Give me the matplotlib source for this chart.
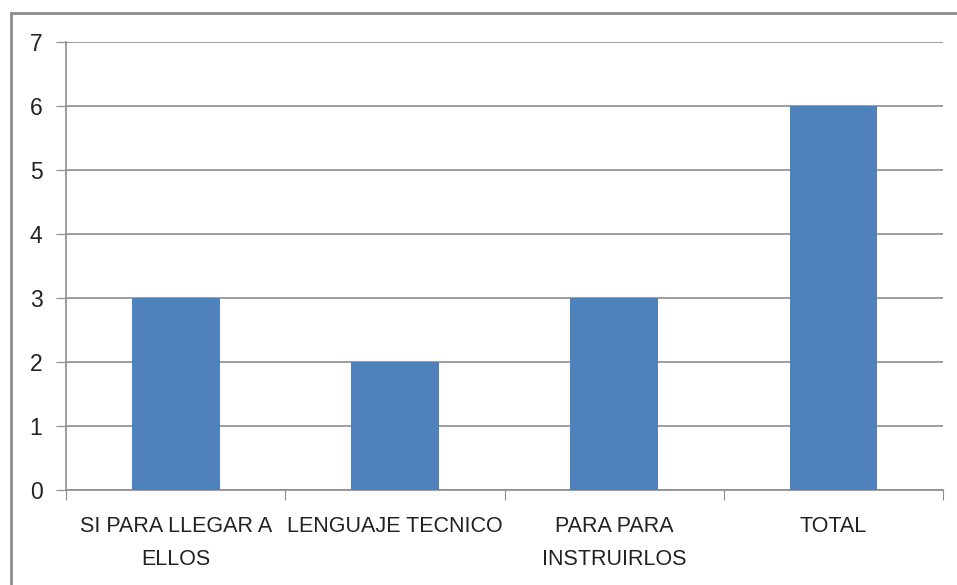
import matplotlib
matplotlib.use("Agg")
from matplotlib import pyplot as plt
from matplotlib.patches import Rectangle

categories = ["SI PARA LLEGAR A\nELLOS", "LENGUAJE TECNICO", "PARA PARA\nINSTRUIRLOS", "TOTAL"]
values = [3, 2, 3, 6]

plt.rcParams['font.family'] = ['Liberation Sans', 'DejaVu Sans']

fig = plt.figure(figsize=(9.57, 5.85), dpi=100)
ax = fig.add_axes([0.069, 0.1624, 0.9164, 0.7658])

# outer chart border (cropped at right and bottom)
fig.patches.append(Rectangle((10.5 / 957, -0.1), 1.2, 1 - 12.5 / 585 + 0.1,
                             transform=fig.transFigure, fill=False,
                             edgecolor='#8c8c8c', linewidth=2))

pos = list(range(len(categories)))
ax.bar(pos, values, width=0.4, color='#4F81BD', zorder=3)

ax.set_xlim(-0.5, len(categories) - 0.5)
ax.set_ylim(0, 7)
ax.set_yticks(range(0, 8))
ax.set_xticks([p - 0.5 for p in pos] + [len(categories) - 0.5])
ax.set_xticklabels([])
ax.set_xticks(pos, minor=True)
ax.set_xticklabels(categories, minor=True, fontsize=15.5, color='#222222', linespacing=1.75)
ax.tick_params(axis='x', which='major', length=7, color='#8c8c8c', direction='out')
ax.tick_params(axis='x', which='minor', length=0, pad=18.5)
ax.tick_params(axis='y', length=7, color='#8c8c8c', labelsize=16.5, labelcolor='#222222', pad=10)

ax.grid(axis='y', color='#8c8c8c', linewidth=1.2, zorder=0)
for s in ['top', 'right']:
    ax.spines[s].set_visible(False)
for s in ['left', 'bottom']:
    ax.spines[s].set_color('#8c8c8c')
    ax.spines[s].set_linewidth(1.2)

plt.savefig("out.png", dpi=100)
plt.close(fig)
